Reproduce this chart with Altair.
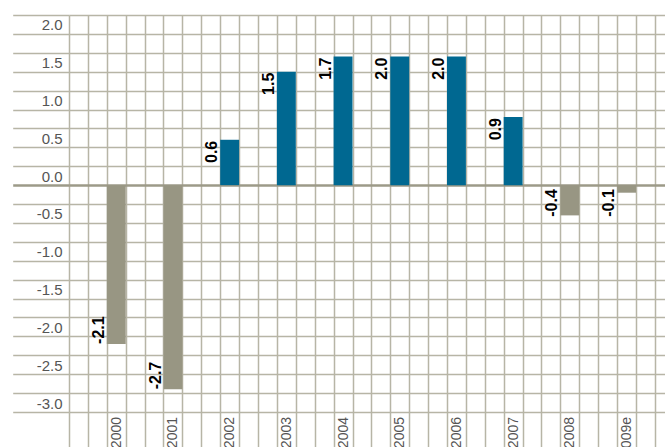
import json
import altair as alt
import pandas as pd

# ---- data ----
years = ["2000", "2001", "2002", "2003", "2004", "2005", "2006", "2007", "2008", "2009e"]
bar_values = [-2.1, -2.7, 0.6, 1.5, 1.7, 1.7, 1.7, 0.9, -0.4, -0.1]
value_labels = ["-2.1", "-2.7", "0.6", "1.5", "1.7", "2.0", "2.0", "0.9", "-0.4", "-0.1"]
y_grid_values = [-3 + 0.25 * k for k in range(22)]   # -3.00 ... 2.25

# ---- layout / style ----
CELL = 18.9
COLS_PER_YEAR = 3
BAR_COL = 2
N_COLS_VISIBLE = 596 / CELL
W = 596
H = round(21 * CELL)
BLUE = "#006891"
GREY = "#989683"
GRID = "#b7b5a6"
ZERO = "#9c9a88"
FONT = "Liberation Sans"

df = pd.DataFrame({"year": years, "value": bar_values, "label": value_labels})
df["idx"] = range(len(df))
df["x0"] = df["idx"] * COLS_PER_YEAR + BAR_COL
df["x1"] = df["x0"] + 1

x_scale = alt.Scale(domain=[0, N_COLS_VISIBLE], nice=False, zero=False)
y_scale = alt.Scale(domain=[-3, 2.25], nice=False, zero=False)

year_array = json.dumps(years).replace('"', "'")
x_label_expr = (
    f"datum.value % {COLS_PER_YEAR} == {BAR_COL} ? "
    f"{year_array}[floor(datum.value / {COLS_PER_YEAR})] : ''"
)
y_label_expr = (
    "(abs(datum.value * 2 - round(datum.value * 2)) < 0.001 && datum.value < 2.1) ? "
    "((datum.value < 0 ? '-' : '') + format(abs(datum.value), '.1f')) : ''"
)

line_color = {"condition": {"test": "abs(datum.value) < 0.0001", "value": ZERO}, "value": GRID}
line_width = {"condition": {"test": "abs(datum.value) < 0.0001", "value": 2.5}, "value": 1.5}

x_axis = alt.Axis(
    values=list(range(32)), tickCount=100,
    grid=True, gridColor=GRID, gridWidth=1.5,
    ticks=True, tickSize=40, tickColor=GRID, tickWidth=1.5,
    domain=False, title=None,
    labelExpr=x_label_expr, labelAngle=270, labelAlign="right", labelBaseline="middle",
    labelOffset=CELL / 2, labelPadding=4.5 - 40,
    labelFontSize=14, labelColor="#555555", labelFont=FONT,
    labelOverlap=False, labelFlush=False, labelBound=False,
)
y_axis = alt.Axis(
    values=y_grid_values, tickCount=100,
    grid=True, gridColor=line_color, gridWidth=line_width,
    ticks=True, tickSize=56.3, tickColor=line_color, tickWidth=line_width,
    domain=False, title=None,
    labelExpr=y_label_expr, labelAlign="right", labelBaseline="alphabetic",
    labelOffset=-4, labelPadding=7 - 56.3,
    labelFontSize=15, labelColor="#555555", labelFont=FONT,
    labelOverlap=False, labelFlush=False,
)

base = alt.Chart(df)

bars = base.mark_bar(stroke=None).encode(
    x=alt.X("x0:Q", scale=x_scale, axis=x_axis),
    x2="x1:Q",
    y=alt.Y("value:Q", scale=y_scale, axis=y_axis),
    y2=alt.datum(0),
    color=alt.condition(alt.datum.value > 0, alt.value(BLUE), alt.value(GREY)),
)

txt_kw = dict(angle=270, baseline="alphabetic", dy=-3, fontSize=16,
              fontWeight="bold", color="black", font=FONT)

# positive bars: label hangs down from the bar top
pos_labels = base.transform_filter(alt.datum.value > 0).mark_text(
    align="right", dx=-1, **txt_kw
).encode(
    x=alt.X("x0:Q", scale=x_scale),
    y=alt.Y("value:Q", scale=y_scale),
    text="label:N",
)
# long negative bars: label rises from the bar end
neg_labels = base.transform_filter(alt.datum.value < -0.5).mark_text(
    align="left", **txt_kw
).encode(
    x=alt.X("x0:Q", scale=x_scale),
    y=alt.Y("value:Q", scale=y_scale),
    text="label:N",
)
# short negative bars: label hangs below the zero line
small_neg_labels = base.transform_filter(
    (alt.datum.value < 0) & (alt.datum.value >= -0.5)
).mark_text(
    align="right", dx=-4, **txt_kw
).encode(
    x=alt.X("x0:Q", scale=x_scale),
    y=alt.Y(datum=0, scale=y_scale),
    text="label:N",
)

chart = (
    alt.layer(bars, pos_labels, neg_labels, small_neg_labels)
    .properties(
        width=W, height=H,
        autosize=alt.AutoSizeParams(type="none"),
        padding={"left": 69, "top": 15, "right": 0, "bottom": 447 - 15 - H},
        background="white",
    )
    .configure_view(stroke=None)
)

chart.save("out.html", embed_options={"renderer": "svg", "actions": False})
